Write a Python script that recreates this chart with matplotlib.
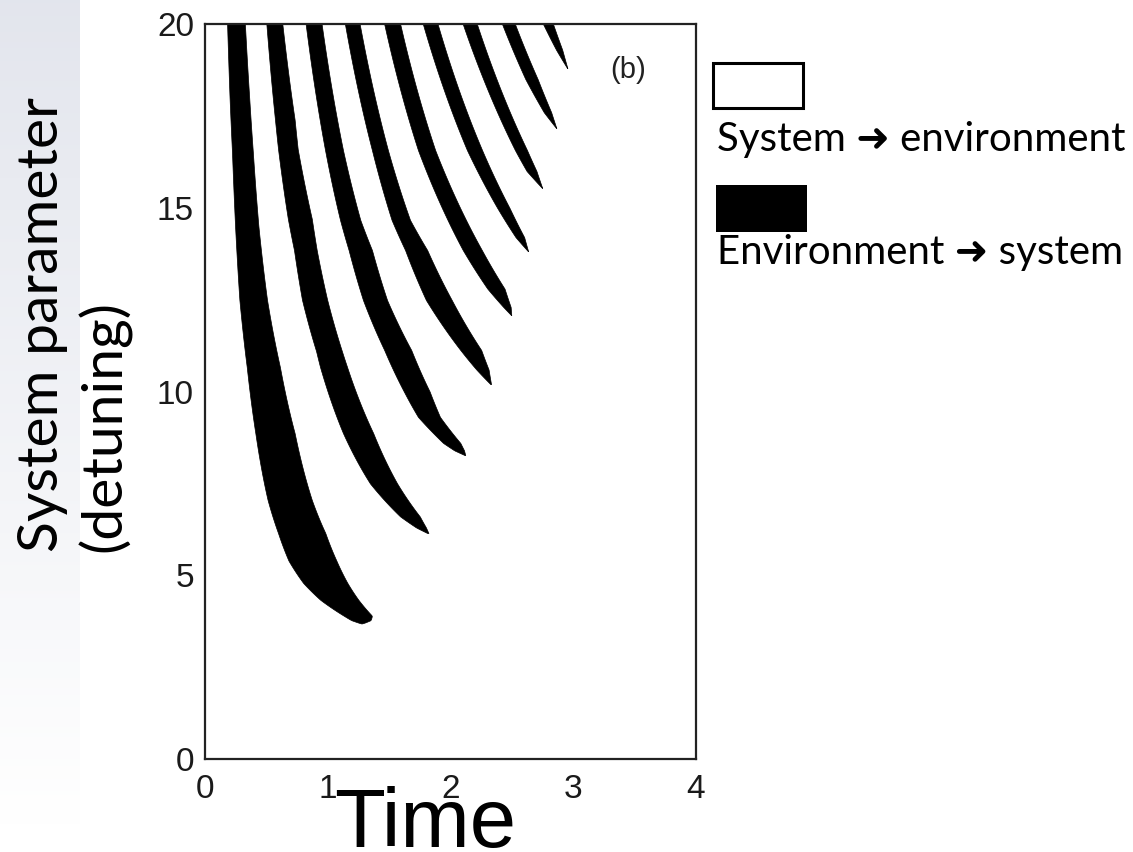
import numpy as np
import matplotlib
matplotlib.use("Agg")
import matplotlib.pyplot as plt

# ---- digitized band boundaries: detuning, left time, right time ----
band1_delta = [20.5, 20.0, 18.0, 16.5, 14.5, 12.5, 10.67, 8.87, 7.05, 6.15, 5.4, 4.79, 4.33, 3.9, 3.78, 3.71, 3.69]
band1_tl    = [0.175, 0.18, 0.20, 0.22, 0.245, 0.28, 0.34, 0.41, 0.51, 0.595, 0.68, 0.80, 0.94, 1.13, 1.19, 1.25, 1.27]
band1_tr    = [0.318, 0.325, 0.36, 0.39, 0.435, 0.505, 0.61, 0.73, 0.87, 0.98, 1.07, 1.16, 1.25, 1.36, 1.35, 1.30, 1.28]

band2_delta = [20.5, 20.0, 17.4, 16.6, 14.7, 13.85, 12.5, 11.1, 10.67, 8.87, 7.5, 6.6, 6.3, 6.15]
band2_tl    = [0.49, 0.50, 0.57, 0.595, 0.675, 0.725, 0.79, 0.905, 0.937, 1.124, 1.344, 1.59, 1.72, 1.81]
band2_tr    = [0.615, 0.63, 0.73, 0.755, 0.87, 0.91, 0.995, 1.115, 1.157, 1.37, 1.565, 1.75, 1.80, 1.82]

band3_delta = [20.5, 20.0, 16.57, 14.67, 13.85, 12.49, 11.13, 10.0, 9.31, 8.6, 8.4, 8.27]
band3_tl    = [0.80, 0.82, 0.978, 1.10, 1.17, 1.287, 1.46, 1.62, 1.735, 1.94, 2.03, 2.115]
band3_tr    = [0.93, 0.95, 1.124, 1.265, 1.36, 1.483, 1.68, 1.83, 1.914, 2.08, 2.11, 2.12]

band4_delta = [20.5, 20.0, 16.57, 14.67, 13.85, 12.49, 11.13, 10.6, 10.2]
band4_tl    = [1.11, 1.14, 1.36, 1.52, 1.63, 1.80, 2.08, 2.21, 2.325]
band4_tr    = [1.23, 1.26, 1.49, 1.67, 1.81, 2.01, 2.25, 2.31, 2.33]

band5_delta = [20.5, 20.0, 16.57, 13.85, 12.8, 12.3, 12.08]
band5_tl    = [1.43, 1.46, 1.735, 2.10, 2.30, 2.43, 2.493]
band5_tr    = [1.555, 1.59, 1.875, 2.255, 2.44, 2.49, 2.495]

band6_delta = [20.5, 20.0, 16.57, 15.0, 14.2, 13.82]
band6_tl    = [1.74, 1.775, 2.134, 2.38, 2.53, 2.63]
band6_tr    = [1.86, 1.895, 2.257, 2.48, 2.60, 2.632]

band7_delta = [20.5, 20.0, 16.57, 16.0, 15.54]
band7_tl    = [2.06, 2.10, 2.525, 2.62, 2.745]
band7_tr    = [2.17, 2.215, 2.623, 2.70, 2.747]

band8_delta = [20.5, 20.0, 18.5, 17.6, 17.17]
band8_tl    = [2.38, 2.42, 2.61, 2.76, 2.86]
band8_tr    = [2.48, 2.525, 2.71, 2.82, 2.862]

band9_delta = [20.5, 20.0, 19.3, 18.8]
band9_tl    = [2.70, 2.754, 2.86, 2.95]
band9_tr    = [2.78, 2.835, 2.91, 2.952]

bands = [
    (band1_delta, band1_tl, band1_tr),
    (band2_delta, band2_tl, band2_tr),
    (band3_delta, band3_tl, band3_tr),
    (band4_delta, band4_tl, band4_tr),
    (band5_delta, band5_tl, band5_tr),
    (band6_delta, band6_tl, band6_tr),
    (band7_delta, band7_tl, band7_tr),
    (band8_delta, band8_tl, band8_tr),
    (band9_delta, band9_tl, band9_tr),
]

x_ticks = [0, 1, 2, 3, 4]
y_ticks = [0, 5, 10, 15, 20]
panel_label = "(b)"
x_label = "Time"
y_label = "System parameter\n(detuning)"
legend_labels = ["System \u279c environment", "Environment \u279c system"]

W, H = 1133, 852
fig = plt.figure(figsize=(W / 100, H / 100), dpi=100)

# left gradient strip
bg = fig.add_axes([0, 25 / H, 80 / W, 1 - 25 / H], zorder=0)
grad = np.linspace(0, 1, 256).reshape(-1, 1)
top_c = np.array([0.890, 0.900, 0.930])
bot_c = np.array([1.0, 1.0, 1.0])
img = top_c[None, None, :] * (1 - grad[:, :, None]) + bot_c[None, None, :] * grad[:, :, None]
bg.imshow(img, aspect="auto", extent=[0, 1, 0, 1])
bg.axis("off")

ax = fig.add_axes([205 / W, 1 - 759 / H, (696 - 205) / W, (759 - 24) / H], zorder=1)
for d, tl, tr in bands:
    d = np.asarray(d, float)
    tl = np.asarray(tl, float)
    tr = np.asarray(tr, float)
    # join the read points along hyperbola-like paths
    # (linear in time*detuning between consecutive read points)
    order = np.argsort(d)
    d, tl, tr = d[order], tl[order], tr[order]
    dd = np.linspace(d[0], d[-1], 600)
    ul = np.interp(dd, d, tl * d)
    ur = np.interp(dd, d, tr * d)
    ax.fill_betweenx(dd, ul / dd, ur / dd, color="black", linewidth=0.5, edgecolor="black")
ax.set_xlim(0, 4)
ax.set_ylim(0, 20)
ax.set_xticks(x_ticks)
ax.set_yticks(y_ticks)
ax.tick_params(length=0, labelsize=24, labelcolor="#1a1a1a", pad=8)
ax.tick_params(axis="x", pad=11)
for lab in ax.get_xticklabels() + ax.get_yticklabels():
    lab.set_family("Liberation Sans")
for s in ax.spines.values():
    s.set_linewidth(1.6)
    s.set_color("#222222")
ax.text(3.45, 18.75, panel_label, fontsize=21, family="Liberation Sans",
        ha="center", va="center", color="#222222")

fig.text(425 / W, 5 / H, x_label, fontsize=60, family="Liberation Sans",
         ha="center", va="baseline")
fig.text(74 / W, 1 - 325 / H, y_label, fontsize=41, family=["Lato", "DejaVu Sans"],
         rotation=90, ha="center", va="center", multialignment="left", linespacing=1.22)

# legend patches and labels
fig.patches.append(plt.Rectangle((713 / W, 1 - 108 / H), 90 / W, 45 / H,
                                 transform=fig.transFigure, facecolor="white",
                                 edgecolor="black", linewidth=2.2))
fig.patches.append(plt.Rectangle((716 / W, 1 - 232 / H), 91 / W, 47 / H,
                                 transform=fig.transFigure, facecolor="black",
                                 edgecolor="black", linewidth=0))
fig.text(717 / W, 1 - 151 / H, legend_labels[0], fontsize=29,
         family=["Lato", "DejaVu Sans"], ha="left", va="baseline")
fig.text(717 / W, 1 - 264 / H, legend_labels[1], fontsize=29,
         family=["Lato", "DejaVu Sans"], ha="left", va="baseline")

fig.savefig("out.png", dpi=100)
